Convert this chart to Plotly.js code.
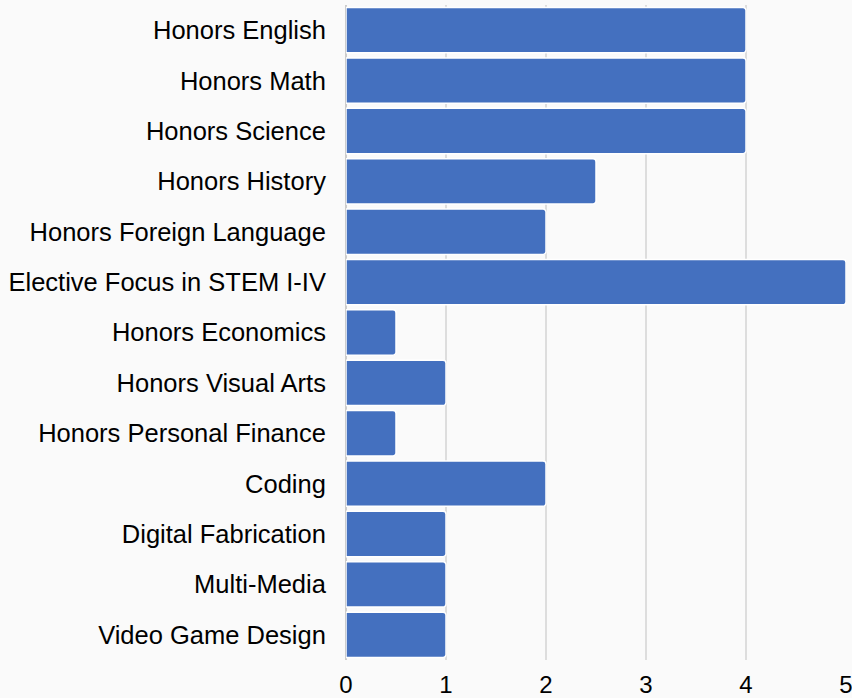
<!DOCTYPE html>
<html>
<head>
<meta charset="utf-8">
<script src="https://cdn.plot.ly/plotly-3.0.1.min.js"></script>
<style>html,body{margin:0;padding:0;background:#fafafa;}#chart{width:852px;height:698px;}</style>
</head>
<body>
<div id="chart"></div>
<script>
const courses = [
  "Honors English", "Honors Math", "Honors Science", "Honors History",
  "Honors Foreign Language", "Elective Focus in STEM I-IV", "Honors Economics",
  "Honors Visual Arts", "Honors Personal Finance", "Coding",
  "Digital Fabrication", "Multi-Media", "Video Game Design"
];
const values = [4, 4, 4, 2.5, 2, 5, 0.5, 1, 0.5, 2, 1, 1, 1];
const xTicks = [0, 1, 2, 3, 4, 5];

const trace = {
  type: "bar",
  orientation: "h",
  y: courses,
  x: values,
  marker: {
    color: "#4470bf",
    line: {color: "#ffffff", width: 1.5},
    cornerradius: 3
  },
  hoverinfo: "x+y"
};

const layout = {
  width: 852, height: 698,
  margin: {l: 346, r: 6, t: 5, b: 38, pad: 0},
  paper_bgcolor: "#fafafa",
  plot_bgcolor: "#fafafa",
  bargap: 0.1,
  showlegend: false,
  font: {family: "Liberation Sans, Arial, sans-serif", color: "#000", size: 25.5},
  xaxis: {
    range: [0, 5],
    tickvals: xTicks,
    ticktext: xTicks.map(String),
    showgrid: true, gridcolor: "#dddddd", gridwidth: 1.5,
    zeroline: true, zerolinecolor: "#cccccc", zerolinewidth: 2,
    ticks: "outside", ticklen: 3, tickcolor: "rgba(0,0,0,0)",
    tickfont: {size: 24},
    ticklabeloverflow: "allow",
    fixedrange: true
  },
  yaxis: {
    autorange: "reversed",
    type: "category",
    showgrid: false, zeroline: false,
    ticks: "outside", ticklen: 14, tickcolor: "rgba(0,0,0,0)",
    tickfont: {size: 25.5},
    fixedrange: true
  }
};

Plotly.newPlot("chart", [trace], layout, {displayModeBar: false, staticPlot: true});
</script>
</body>
</html>
